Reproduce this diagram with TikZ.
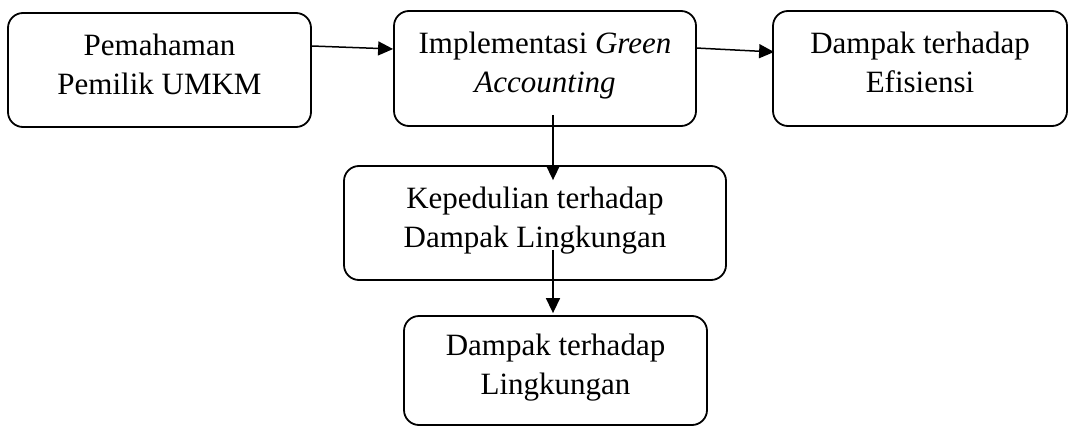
\documentclass[tikz,border=0pt]{standalone}
\usepackage{fontspec}
\setmainfont{Liberation Serif}
\usetikzlibrary{shapes, positioning, arrows.meta}

\begin{document}
\begin{tikzpicture}[x=1pt, y=-1pt,
        blok/.style={draw, line width=1.8pt, rounded corners=15pt, align=center, inner sep=0pt,
            font=\fontsize{31}{39}\selectfont, execute at begin node=\strut, execute at end node=\strut},
        panah/.style={-{Triangle[length=15pt, width=14pt]}, line width=1.5pt}]
        \useasboundingbox (0, 0) rectangle (1070, 428);

        \node[blok, minimum width=303pt, minimum height=114pt] (pemahaman) at (159.5, 70) {Pemahaman\\Pemilik UMKM};
        \node[blok, minimum width=302pt, minimum height=115pt] (implementasi) at (545, 68.5) {Implementasi \textit{Green}\\\textit{Accounting}};
        \node[blok, minimum width=294pt, minimum height=115pt] (efisiensi) at (920, 68.5) {Dampak terhadap\\Efisiensi};
        \node[blok, minimum width=382pt, minimum height=114pt] (kepedulian) at (535, 223) {Kepedulian terhadap\\Dampak Lingkungan};
        \node[blok, minimum width=303pt, minimum height=109pt] (lingkungan) at (555.5, 370.5) {Dampak terhadap\\Lingkungan};

        \draw[panah] ([yshift=24pt]pemahaman.east) -- ([yshift=19.5pt]implementasi.west);
        \draw[panah] ([xshift=-1pt, yshift=20.5pt]implementasi.east) -- ([xshift=2pt, yshift=16.5pt]efisiensi.west);
        \draw[panah] ([xshift=8pt, yshift=12pt]implementasi.south) -- ([xshift=18pt, yshift=-15pt]kepedulian.north);
        \draw[panah] ([xshift=18pt, yshift=31pt]kepedulian.south) -- ([xshift=-2.5pt, yshift=2pt]lingkungan.north);
    \end{tikzpicture}
\end{document}
